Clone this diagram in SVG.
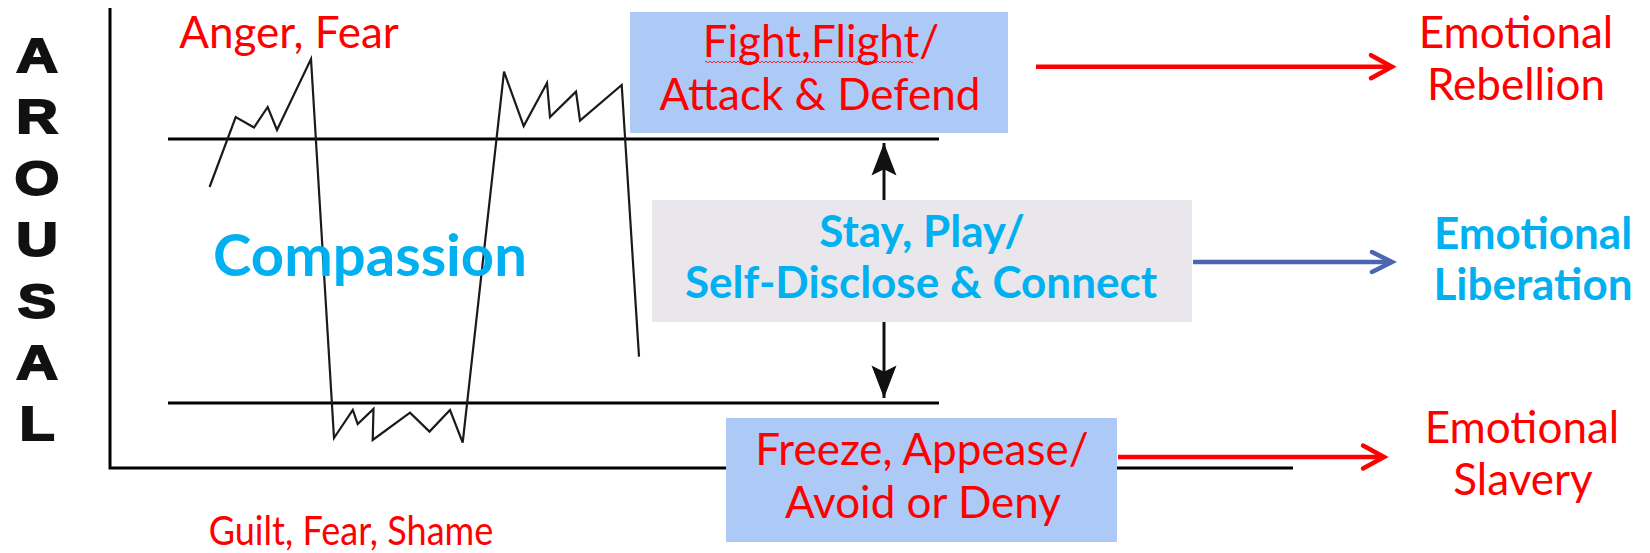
<svg xmlns="http://www.w3.org/2000/svg" width="1650" height="553" viewBox="0 0 1650 553">
<style>
  .ax { stroke:#000; stroke-width:3; fill:none; }
  .zig { stroke:#1a1a1a; stroke-width:2.2; fill:none; stroke-linejoin:miter; }
  .red { font-family:Lato, "Liberation Sans", sans-serif; font-size:44px; fill:#FF0000; text-anchor:middle; }
  .blue { font-family:Lato, "Liberation Sans", sans-serif; font-size:44px; font-weight:bold; fill:#00B0F0; text-anchor:middle; }
  .letter { font-family:"Liberation Sans", Arial, sans-serif; font-size:48px; font-weight:bold; fill:#111; stroke:#111; stroke-width:2; text-anchor:middle; }
  .boxb { fill:#ADCAF6; }
  .boxg { fill:#E9E7EB; }
</style>
<defs>
  <marker id="chevRed" markerUnits="userSpaceOnUse" markerWidth="30" markerHeight="30" refX="0" refY="0" viewBox="-26 -15 30 30" orient="auto" overflow="visible">
    <path d="M-21 -11.5 L0 0 L-21 11.5" stroke="#FF0000" stroke-width="4.5" fill="none" stroke-linejoin="miter" stroke-linecap="round"/>
  </marker>
  <marker id="chevBlue" markerUnits="userSpaceOnUse" markerWidth="30" markerHeight="30" refX="0" refY="0" viewBox="-26 -15 30 30" orient="auto" overflow="visible">
    <path d="M-20 -10 L0 0 L-20 10" stroke="#4A66AE" stroke-width="4.5" fill="none" stroke-linejoin="miter" stroke-linecap="round"/>
  </marker>
  <marker id="stealth" markerUnits="userSpaceOnUse" markerWidth="40" markerHeight="40" refX="0" refY="0" viewBox="-30 -15 32 30" orient="auto" overflow="visible">
    <path d="M0 0 L-26 -10 L-21 0 L-26 10 Z" fill="#111"/>
  </marker>
  <pattern id="wavy" width="4" height="4" patternUnits="userSpaceOnUse">
    <path d="M0 3 L2 1 L4 3" stroke="#FF0000" stroke-width="0.8" fill="none"/>
  </pattern>
</defs>

<g id="axis-label" transform="translate(37,0) scale(1.2,1)">
  <text class="letter" x="0" y="72">A</text>
  <text class="letter" x="0" y="133">R</text>
  <text class="letter" x="0" y="195">O</text>
  <text class="letter" x="0" y="256">U</text>
  <text class="letter" x="0" y="318">S</text>
  <text class="letter" x="0" y="379">A</text>
  <text class="letter" x="0" y="440">L</text>
</g>

<g id="chart">
  <path class="ax" d="M110 8 V468 H1293"/>
  <path class="ax" d="M168 139 H939"/>
  <path class="ax" d="M168 403 H939"/>
  <polyline class="zig" points="209.6,187 235.7,117 254,127.5 267.7,107 277,130 311,59 334,438 352.8,410 357.7,424 373.5,409 372.7,440 410,412.6 429.5,431.6 450,410 462.7,442.6 504,71.6 523.7,126 547,83 550,117 576,91.6 580,120.5 621.7,85 639,356.6"/>
  <text class="red" x="289" y="48">Anger, Fear</text>
  <text class="red" x="0" y="0" transform="translate(351,545) scale(0.88,1)" style="font-size:41px">Guilt, Fear, Shame</text>
  <text x="370" y="276" font-family="Lato, 'Liberation Sans', sans-serif" font-size="58" font-weight="bold" fill="#00B0F0" text-anchor="middle">Compassion</text>
</g>

<g id="connectors">
  <line x1="1036" y1="66.7" x2="1392" y2="66.7" stroke="#FF0000" stroke-width="4.5" marker-end="url(#chevRed)"/>
  <line x1="1193" y1="262" x2="1392" y2="262" stroke="#4A66AE" stroke-width="4.5" marker-end="url(#chevBlue)"/>
  <line x1="1118" y1="457" x2="1384" y2="457" stroke="#FF0000" stroke-width="4.5" marker-end="url(#chevRed)"/>
  <line x1="884" y1="200" x2="884" y2="143" stroke="#111" stroke-width="3" marker-end="url(#stealth)"/>
  <line x1="884" y1="322" x2="884" y2="398" stroke="#111" stroke-width="3" marker-end="url(#stealth)"/>
</g>

<g id="fight-box">
  <rect class="boxb" x="630" y="12" width="378" height="121"/>
  <text class="red" x="821" y="57">Fight,Flight/</text>
  <rect x="705" y="60" width="208" height="4" fill="url(#wavy)"/>
  <text class="red" x="820" y="110">Attack &amp; Defend</text>
</g>

<g id="stay-box">
  <rect class="boxg" x="652" y="200" width="540" height="122"/>
  <text class="blue" x="922" y="247">Stay, Play/</text>
  <text class="blue" x="921" y="298">Self-Disclose &amp; Connect</text>
</g>

<g id="freeze-box">
  <rect class="boxb" x="726" y="418" width="391" height="124"/>
  <text class="red" x="922" y="465">Freeze, Appease/</text>
  <text class="red" x="923" y="518">Avoid or Deny</text>
</g>

<g id="rebellion">
  <text class="red" x="1516" y="48">Emotional</text>
  <text class="red" x="1516" y="100">Rebellion</text>
</g>

<g id="liberation">
  <text class="blue" x="1533" y="249">Emotional</text>
  <text class="blue" x="1533" y="300">Liberation</text>
</g>

<g id="slavery">
  <text class="red" x="1522" y="443">Emotional</text>
  <text class="red" x="1523" y="495">Slavery</text>
</g>
</svg>
